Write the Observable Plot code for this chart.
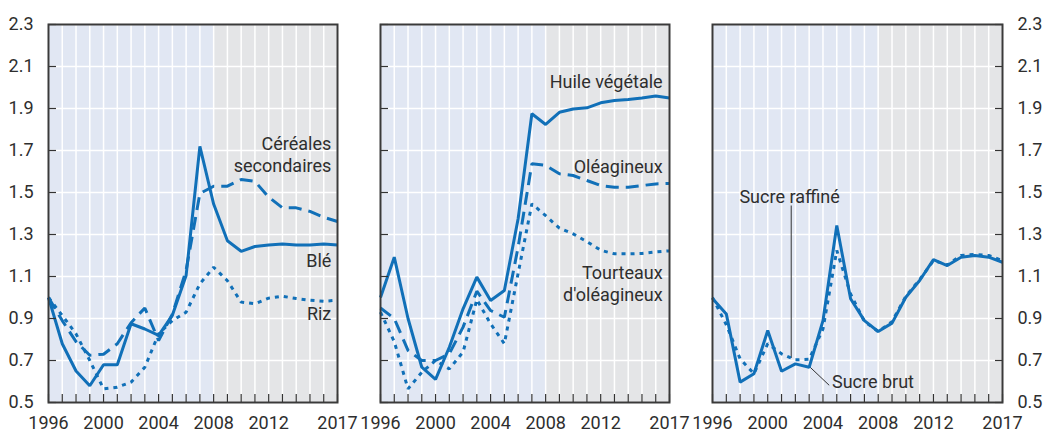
<!DOCTYPE html>
<html><head><meta charset="utf-8">
<script src="https://cdn.jsdelivr.net/npm/d3@7"></script>
<script src="https://cdn.jsdelivr.net/npm/@observablehq/plot@0.6"></script>
<style>
body{margin:0;background:#fff;}
#chart{position:relative;width:1044px;height:433px;font-family:Roboto,"Liberation Sans",sans-serif;}
#chart svg{position:absolute;top:0;overflow:visible;}
</style></head><body><div id="chart"></div>
<script>
// ---- data ----
const years = [1996,1997,1998,1999,2000,2001,2002,2003,2004,2005,2006,2007,2008,2009,2010,2011,2012,2013,2014,2015,2016,2017];
const xTickLabels = [1996,2000,2004,2008,2012,2017];
const yTicks = [0.5,0.7,0.9,1.1,1.3,1.5,1.7,1.9,2.1,2.3];
const periods = [{from:1996,to:2008},{from:2008,to:2017}];

const ble        = [1.00,0.78,0.65,0.58,0.68,0.68,0.875,0.85,0.82,0.915,1.105,1.72,1.445,1.27,1.22,1.243,1.25,1.255,1.25,1.25,1.255,1.25];
const cereales   = [1.00,0.89,0.79,0.725,0.73,0.78,0.88,0.95,0.795,0.92,1.13,1.495,1.53,1.53,1.562,1.553,1.478,1.427,1.427,1.41,1.382,1.362];
const riz        = [1.00,0.914,0.827,0.70,0.565,0.573,0.597,0.668,0.827,0.89,0.93,1.065,1.144,1.08,0.978,0.97,0.997,1.006,0.995,0.987,0.982,0.987];

const huile      = [1.00,1.192,0.90,0.668,0.61,0.763,0.946,1.097,0.986,1.033,1.375,1.875,1.824,1.882,1.898,1.903,1.927,1.938,1.943,1.95,1.959,1.95];
const oleagineux = [0.95,0.90,0.748,0.70,0.70,0.732,0.859,1.03,0.938,0.906,1.24,1.637,1.629,1.589,1.581,1.557,1.533,1.525,1.525,1.533,1.541,1.543];
const tourteaux  = [0.93,0.79,0.565,0.644,0.70,0.66,0.74,0.99,0.875,0.78,1.115,1.446,1.39,1.33,1.303,1.266,1.225,1.208,1.208,1.21,1.217,1.222];

const sucreBrut    = [0.995,0.922,0.597,0.637,0.843,0.649,0.684,0.668,0.89,1.343,0.994,0.89,0.838,0.878,1.001,1.081,1.18,1.152,1.192,1.2,1.192,1.168];
const sucreRaffine = [1.00,0.87,0.708,0.637,0.78,0.732,0.703,0.706,0.85,1.224,1.017,0.886,0.838,0.885,1.006,1.085,1.176,1.155,1.2,1.205,1.2,1.176];

// ---- styling ----
const BLUE = "#1170b8";
const INK = "#2e2e2e";
const FS = 17.5;
const FONT = "Roboto, 'Liberation Sans', sans-serif";
const SOLID = null, DASH = "13,7", DOT = "4,5";

const toRows = vals => years.map((year, i) => ({year, value: vals[i]}));

const panels = [
  {
    left: 0, width: 358, ml: 48, mr: 21, axis: "left",
    series: [
      {vals: riz, dash: DOT},
      {vals: cereales, dash: DASH},
      {vals: ble, dash: SOLID}
    ],
    labels: [
      {text: "Céréales\nsecondaires", year: 2016.55, value: 1.684, anchor: "end"},
      {text: "Blé", year: 2016.55, value: 1.176, anchor: "end"},
      {text: "Riz", year: 2016.55, value: 0.924, anchor: "end"}
    ],
    leaders: []
  },
  {
    left: 358, width: 332, ml: 22, mr: 21, axis: "ticks",
    series: [
      {vals: tourteaux, dash: DOT},
      {vals: oleagineux, dash: DASH},
      {vals: huile, dash: SOLID}
    ],
    labels: [
      {text: "Huile végétale", year: 2016.5, value: 2.029, anchor: "end"},
      {text: "Oléagineux", year: 2016.5, value: 1.624, anchor: "end"},
      {text: "Tourteaux\nd'oléagineux", year: 2016.5, value: 1.069, anchor: "end"}
    ],
    leaders: []
  },
  {
    left: 690, width: 354, ml: 22, mr: 42, axis: "right",
    series: [
      {vals: sucreRaffine, dash: DOT},
      {vals: sucreBrut, dash: SOLID}
    ],
    labels: [
      {text: "Sucre raffiné", year: 1997.95, value: 1.481, anchor: "start"},
      {text: "Sucre brut", year: 2004.65, value: 0.60, anchor: "start"}
    ],
    leaders: [
      {x1: 2001.7, y1: 1.438, x2: 2001.7, y2: 0.712},
      {x1: 2003.07, y1: 0.668, x2: 2004.45, y2: 0.582}
    ]
  }
];

const chart = document.getElementById("chart");

for (const p of panels) {
  const marks = [
    Plot.rect([periods[0]], {x1: "from", x2: "to", fill: "#e1e7f3"}),
    Plot.rect([periods[1]], {x1: "from", x2: "to", fill: "#e4e5e7"}),
    Plot.gridX({ticks: years, stroke: "#fff", strokeOpacity: 1, strokeWidth: 1.5}),
    Plot.gridY({ticks: yTicks, stroke: "#fff", strokeOpacity: 1, strokeWidth: 1.5}),
    ...p.leaders.map(l => Plot.link([l], {x1: "x1", y1: "y1", x2: "x2", y2: "y2", stroke: "#333", strokeWidth: 1})),
    ...p.series.map(s => Plot.line(toRows(s.vals), {x: "year", y: "value", stroke: BLUE, strokeWidth: 3, strokeDasharray: s.dash ?? undefined, strokeLinejoin: "miter", strokeLinecap: "butt"})),
    Plot.axisX({ticks: years, tickSize: -8, tickFormat: () => "", label: null, stroke: "#333", strokeWidth: 1.2}),
    Plot.axisX({ticks: xTickLabels, tickSize: 0, tickPadding: 14, tickFormat: d => String(d), label: null, fontSize: FS + 0.5, fill: INK})
  ];
  if (p.axis === "left") {
    marks.push(Plot.axisY({ticks: yTicks, tickSize: -8, tickFormat: () => "", label: null, stroke: "#333", strokeWidth: 1.2}));
    marks.push(Plot.axisY({ticks: yTicks, tickSize: 0, tickPadding: 15, tickFormat: d3.format(".1f"), label: null, fontSize: FS + 0.5, fill: INK}));
  } else if (p.axis === "ticks") {
    marks.push(Plot.axisY({ticks: yTicks, tickSize: -8, tickFormat: () => "", label: null, stroke: "#333", strokeWidth: 1.2}));
  } else {
    marks.push(Plot.axisY({anchor: "right", ticks: yTicks, tickSize: -8, tickFormat: () => "", label: null, stroke: "#333", strokeWidth: 1.2}));
    marks.push(Plot.axisY({anchor: "right", ticks: yTicks, tickSize: 0, tickPadding: 15, tickFormat: d3.format(".1f"), label: null, fontSize: FS + 0.5, fill: INK}));
  }
  marks.push(Plot.frame({stroke: "#3a3a3a", strokeWidth: 2}));
  for (const anchor of ["start", "end"]) {
    const items = p.labels.filter(d => d.anchor === anchor);
    if (items.length) marks.push(Plot.text(items, {x: "year", y: "value", text: "text", textAnchor: anchor, fill: INK, fontSize: FS + 0.5, lineHeight: 1.2}));
  }

  const svg = Plot.plot({
    width: p.width,
    height: 433,
    marginLeft: p.ml,
    marginRight: p.mr,
    marginTop: 24,
    marginBottom: 31,
    x: {domain: [1996, 2017], label: null},
    y: {domain: [0.5, 2.3], label: null},
    style: {background: "transparent", overflow: "visible", fontFamily: FONT, fontSize: FS + "px"},
    marks
  });
  svg.style.left = p.left + "px";
  chart.appendChild(svg);
}
</script>
</body></html>
